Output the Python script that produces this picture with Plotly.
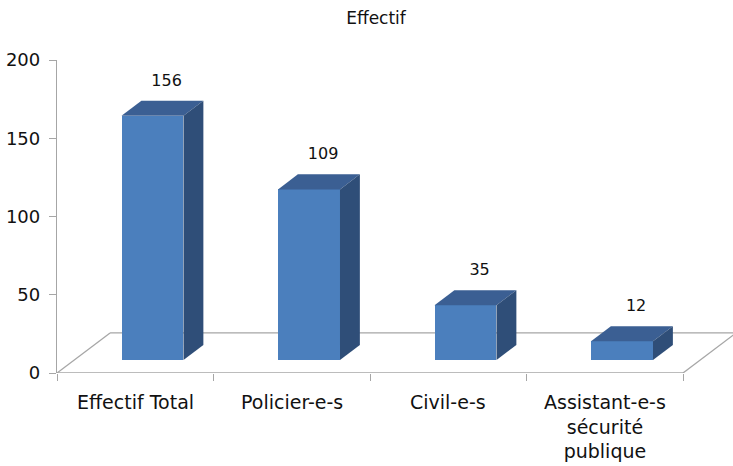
import plotly.graph_objects as go

# Staff counts by category
categories = ["Effectif Total", "Policier-e-s", "Civil-e-s", "Assistant-e-s<br>sécurité<br>publique"]
values = [156, 109, 35, 12]
y_ticks = [0, 50, 100, 150, 200]

# pseudo-3D geometry, in axis units (one category = 1 unit on x)
DEPTH_X, DEPTH_Y = 0.339, 25.6      # floor depth vector
FRONT = 0.325                       # depth fraction of bar front faces
BAR_DEPTH = 0.375                   # depth fraction of bar thickness
BAR_W = 0.396
n = len(categories)
x_max = 676 / 156.5

front_col = "#4b7fbd"
top_col = "#3b5f93"
side_col = "#2f4e78"
grid_col = "#a6a6a6"
txt_col = "#111111"
font_family = "DejaVu Sans"

fig = go.Figure()

# floor outline, kept beneath the bars
floor_segments = [
    ((0, 0), (n, 0)),
    ((0, 0), (DEPTH_X, DEPTH_Y)),
    ((DEPTH_X, DEPTH_Y), (n + DEPTH_X, DEPTH_Y)),
    ((n, 0), (n + DEPTH_X, DEPTH_Y)),
]
for (x0, y0), (x1, y1) in floor_segments:
    fig.add_shape(type="line", xref="x", yref="y", x0=x0, y0=y0, x1=x1, y1=y1,
                  line=dict(color=grid_col, width=1.3), layer="below")

base = FRONT * DEPTH_Y
ox = FRONT * DEPTH_X
bdx, bdy = BAR_DEPTH * DEPTH_X, BAR_DEPTH * DEPTH_Y
centers = [i + 0.5 + ox for i in range(n)]

# front faces
fig.add_trace(go.Bar(x=centers, y=values, base=[base] * n, width=BAR_W,
                     marker=dict(color=front_col, line=dict(width=0)),
                     showlegend=False, hoverinfo="skip"))

# top and side faces
for c, v in zip(centers, values):
    l, r = c - BAR_W / 2, c + BAR_W / 2
    top = base + v
    fig.add_trace(go.Scatter(
        x=[l, r, r + bdx, l + bdx, l], y=[top, top, top + bdy, top + bdy, top],
        mode="lines", fill="toself", fillcolor=top_col, line=dict(width=0, color=top_col),
        hoverinfo="skip", showlegend=False))
    fig.add_trace(go.Scatter(
        x=[r, r + bdx, r + bdx, r, r], y=[base, base + bdy, top + bdy, top, base],
        mode="lines", fill="toself", fillcolor=side_col, line=dict(width=0, color=side_col),
        hoverinfo="skip", showlegend=False))

# value labels
fig.add_trace(go.Scatter(
    x=[c + 0.09 for c in centers], y=[v + base + 21.7 for v in values],
    mode="text", text=[str(v) for v in values],
    textfont=dict(family=font_family, size=16, color=txt_col),
    hoverinfo="skip", showlegend=False, cliponaxis=False))

# category labels
for i, cat in enumerate(categories):
    fig.add_annotation(x=i + 0.5, y=0, xref="x", yref="paper", text=cat,
                       showarrow=False, yanchor="top", yshift=-16,
                       font=dict(family=font_family, size=19, color=txt_col))

fig.update_layout(
    width=733, height=466,
    margin=dict(l=57, r=0, t=60, b=93),
    paper_bgcolor="white", plot_bgcolor="white",
    title=dict(text="Effectif", x=376 / 733, xanchor="center", xref="container",
               y=1 - 18 / 466, yanchor="middle", yref="container",
               font=dict(family=font_family, size=17, color=txt_col)),
    xaxis=dict(range=[0, x_max], tickvals=list(range(n + 1)), ticktext=[""] * (n + 1),
               ticks="outside", ticklen=7, tickcolor=grid_col, tickwidth=1.3,
               showline=False, showgrid=False, zeroline=False, fixedrange=True),
    yaxis=dict(range=[0, 200], tickvals=y_ticks, ticks="outside", ticklen=7,
               tickcolor=grid_col, tickwidth=1.3, showline=True, linecolor=grid_col,
               linewidth=1.3, showgrid=False, zeroline=False, ticklabelstandoff=5,
               tickfont=dict(family=font_family, size=18, color=txt_col)),
    bargap=0,
)

fig.write_html("out.html")
